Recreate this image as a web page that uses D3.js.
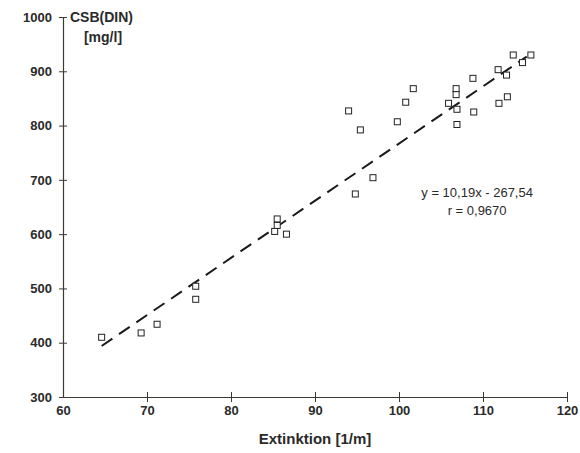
<!DOCTYPE html>
<html>
<head>
<meta charset="utf-8">
<script src="https://cdn.jsdelivr.net/npm/d3@7"></script>
<style>
  body { margin: 0; background: #fff; }
  text { font-family: "Liberation Sans", Arial, sans-serif; }
</style>
</head>
<body>
<div id="chart"></div>
<script>
// measured points: Extinktion [1/m] vs CSB(DIN) [mg/l]
var extinktion = [64.6, 69.3, 71.2, 75.8, 75.8, 85.5, 85.5, 85.2, 86.6,
  94.0, 95.4, 96.9, 94.8, 101.7, 100.8, 99.8, 106.8, 106.8, 105.9, 106.9, 106.9,
  108.8, 108.9, 111.8, 112.8, 111.9, 112.9, 113.6, 114.7, 115.7];
var csb = [410, 418, 434, 504, 480, 628, 616, 605, 600,
  827, 792, 704, 674, 868, 843, 807, 868, 857, 841, 830, 802,
  887, 825, 903, 893, 841, 853, 930, 916, 930];

// trend line ends as drawn
var trendX = [64.6, 115.2];
var trendY = [394, 927];

var xTicks = [60, 70, 80, 90, 100, 110, 120];
var yTicks = [300, 400, 500, 600, 700, 800, 900, 1000];
var equation = ["y = 10,19x - 267,54", "r = 0,9670"];

var margin = { top: 17, right: 13, bottom: 56, left: 63 },
  width = 580 - margin.left - margin.right,
  height = 453 - margin.top - margin.bottom;

var svg = d3.select("#chart").append("svg")
  .attr("width", 580)
  .attr("height", 453)
  .append("g")
  .attr("transform", `translate(${margin.left},${margin.top})`);

var x = d3.scaleLinear().domain([60, 120]).range([0, width]);
var y = d3.scaleLinear().domain([300, 1000]).range([height, 0]);

var axisColor = "#3b3b33";

// X axis
var xAxis = svg.append("g")
  .attr("transform", `translate(0,${height})`)
  .call(d3.axisBottom(x).tickValues(xTicks).tickFormat(d3.format("d")).tickSize(0).tickPadding(9));
xAxis.select(".domain").attr("stroke", axisColor).attr("stroke-width", 1.2);
xAxis.selectAll(".tick").filter(d => d != 60).append("line")
  .attr("y1", -5).attr("y2", 5).attr("stroke", axisColor);
xAxis.selectAll("text")
  .style("font-size", "13px").style("font-weight", "bold").attr("fill", "#2a2a2a");

// Y axis
var yAxis = svg.append("g")
  .call(d3.axisLeft(y).tickValues(yTicks).tickFormat(d3.format("d")).tickSize(0).tickPadding(11));
yAxis.select(".domain").attr("stroke", axisColor).attr("stroke-width", 1.2);
yAxis.selectAll(".tick").append("line")
  .attr("x1", -4).attr("x2", 4).attr("stroke", axisColor);
yAxis.selectAll("text")
  .style("font-size", "13px").style("font-weight", "bold").attr("fill", "#2a2a2a");

// axis titles
svg.append("text")
  .attr("x", width / 2)
  .attr("y", height + 47)
  .attr("text-anchor", "middle")
  .style("font-size", "15px").style("font-weight", "bold").attr("fill", "#2a2a2a")
  .text("Extinktion [1/m]");

svg.append("text")
  .attr("x", 7).attr("y", 5)
  .style("font-size", "14px").style("font-weight", "bold").attr("fill", "#2a2a2a")
  .text("CSB(DIN)");
svg.append("text")
  .attr("x", 40).attr("y", 25)
  .attr("text-anchor", "middle")
  .style("font-size", "14px").style("font-weight", "bold").attr("fill", "#2a2a2a")
  .text("[mg/l]");

// regression line
svg.append("path")
  .datum(d3.zip(trendX, trendY))
  .attr("fill", "none")
  .attr("stroke", "#1a1a1a")
  .attr("stroke-width", 2)
  .attr("stroke-dasharray", "13,8")
  .attr("d", d3.line().x(d => x(d[0])).y(d => y(d[1])));

// points
svg.selectAll("rect.pt")
  .data(d3.zip(extinktion, csb))
  .enter().append("rect")
  .attr("class", "pt")
  .attr("x", d => x(d[0]) - 3)
  .attr("y", d => y(d[1]) - 3)
  .attr("width", 6)
  .attr("height", 6)
  .attr("fill", "#fff")
  .attr("stroke", "#222")
  .attr("stroke-width", 1);

// equation
svg.selectAll("text.eq")
  .data(equation)
  .enter().append("text")
  .attr("class", "eq")
  .attr("x", x(109.3))
  .attr("y", (d, i) => y(669) + i * 18)
  .attr("text-anchor", "middle")
  .style("font-size", "13px").attr("fill", "#2a2a2a")
  .text(d => d);
</script>
</body>
</html>
